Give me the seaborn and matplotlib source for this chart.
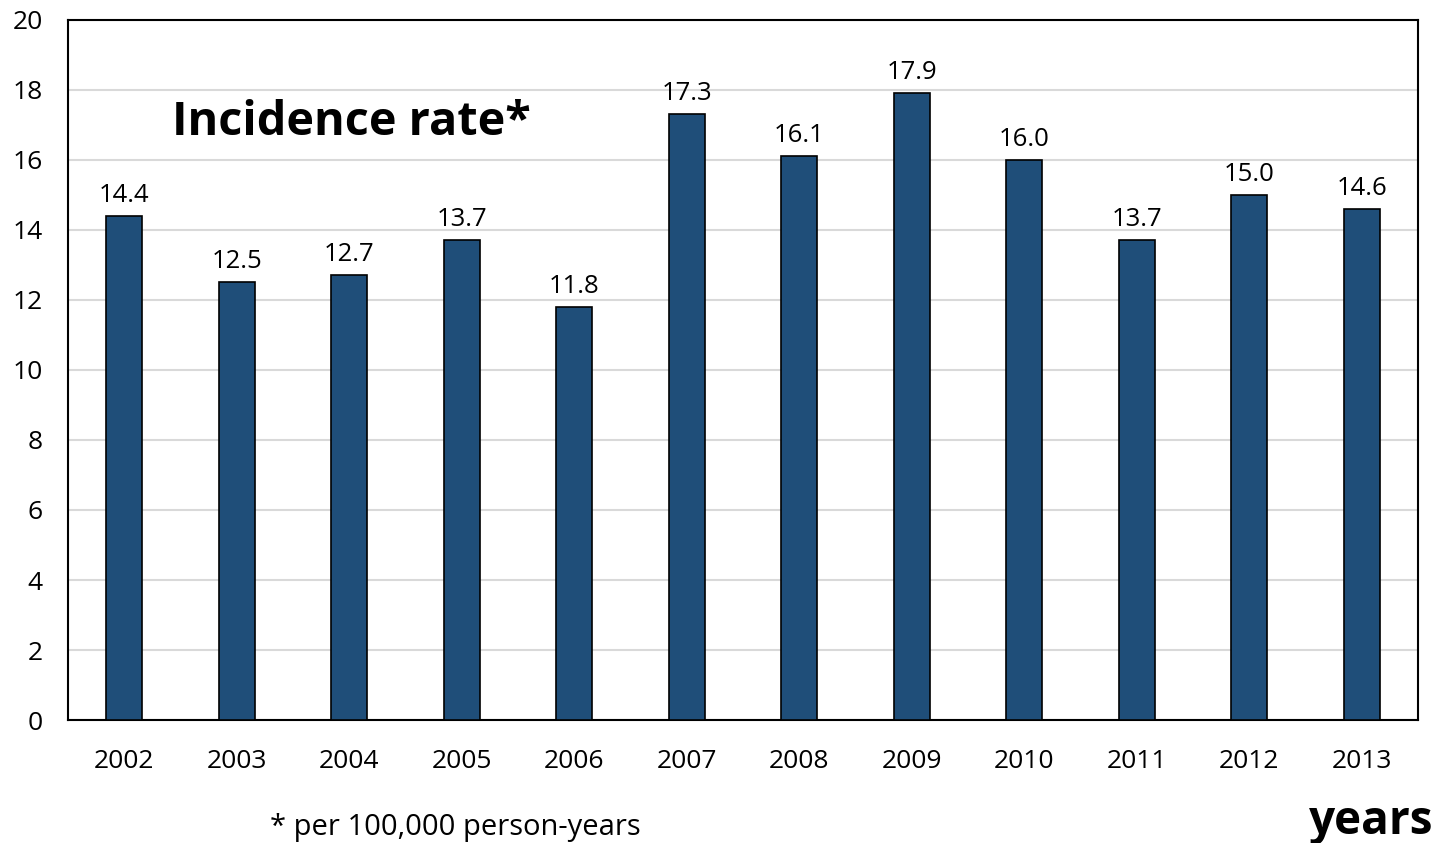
import matplotlib
matplotlib.use("Agg")
import matplotlib.pyplot as plt
import seaborn as sns
import pandas as pd

years = ["2002", "2003", "2004", "2005", "2006", "2007",
         "2008", "2009", "2010", "2011", "2012", "2013"]
rates = [14.4, 12.5, 12.7, 13.7, 11.8, 17.3, 16.1, 17.9, 16.0, 13.7, 15.0, 14.6]
y_ticks = [0, 2, 4, 6, 8, 10, 12, 14, 16, 18, 20]

sns.set_theme(style="white")
plt.rcParams["font.family"] = ["Open Sans", "DejaVu Sans"]
plt.rcParams["text.color"] = "black"

df = pd.DataFrame({"year": years, "rate": rates})

fig = plt.figure(figsize=(14.49, 8.43), dpi=100)
ax = fig.add_axes([0.0469, 0.1459, 0.9317, 0.8304])

sns.barplot(data=df, x="year", y="rate", ax=ax, color="#1F4E79",
            saturation=1, width=0.32, edgecolor="black", linewidth=1.2,
            zorder=3)

ax.set_ylim(0, 20)
ax.set_xlim(-0.5, len(years) - 0.5)
ax.set_yticks(y_ticks)
ax.yaxis.grid(True, color="#D9D9D9", linewidth=1.5, zorder=0)
ax.set_axisbelow(True)
for s in ax.spines.values():
    s.set_color("black")
    s.set_linewidth(1.5)
ax.tick_params(axis="both", length=0, labelsize=19, colors="black")
ax.tick_params(axis="x", pad=21)
ax.tick_params(axis="y", pad=18)
ax.set_xlabel("")
ax.set_ylabel("")

for cont in ax.containers:
    ax.bar_label(cont, labels=[f"{v:.1f}" for v in rates], padding=6,
                 fontsize=18.5, color="black")

ax.text(0.077, 0.853, "Incidence rate*", transform=ax.transAxes,
        fontsize=33.7, fontweight="bold", ha="left", va="center")
fig.text(0.186, 0.018, "* per 100,000 person-years", fontsize=21,
         ha="left", va="center")
fig.text(0.989, 0.025, "years", fontsize=33, fontweight="bold",
         ha="right", va="center")

fig.savefig("out.png", dpi=100)
